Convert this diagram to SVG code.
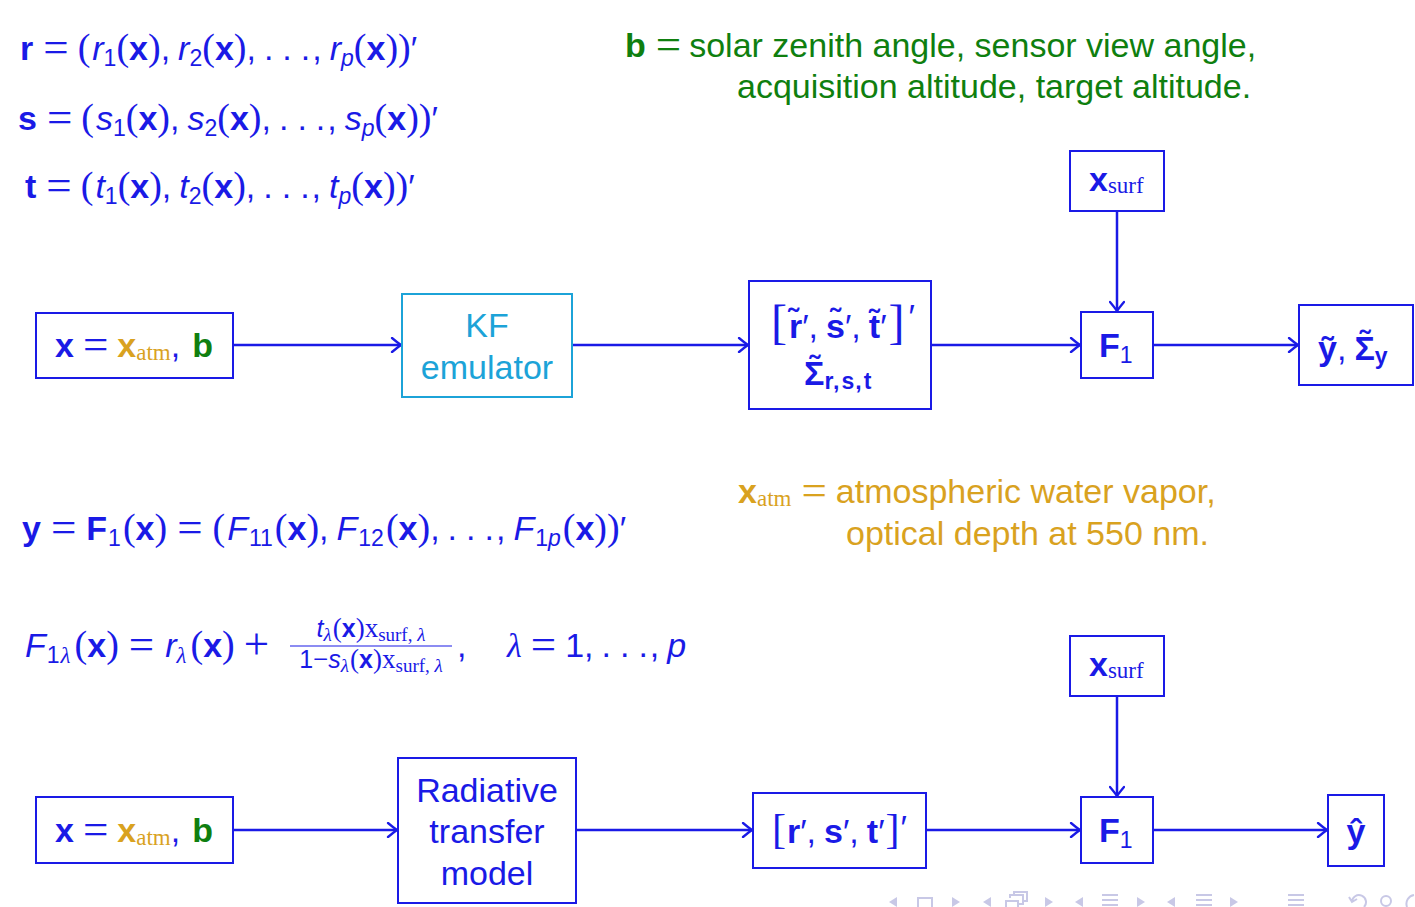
<svg xmlns="http://www.w3.org/2000/svg" width="1415" height="907" viewBox="0 0 1415 907">
<defs>
<style>
text{font-family:"Liberation Sans",Arial,sans-serif;font-size:34px}
.bf{font-weight:bold}
.it{font-style:italic}
.eq{font-family:"Liberation Serif",serif;font-size:45px;font-style:normal;font-weight:normal;baseline-shift:-2px}
.p{font-family:"Liberation Serif",serif;font-size:38px;font-style:normal;font-weight:normal}
.sb{font-size:23px}
.sr{font-family:"Liberation Serif",serif;font-size:23px}
.lam{font-family:"Liberation Serif",serif;font-style:italic}
.blue{fill:#1a1ae6}
.green{fill:#0f7f0f}
.gold{fill:#d9a21f}
.cyan{fill:#1ca3d8}
.box{fill:#ffffff;stroke:#1a1ae6;stroke-width:2}
.kf{fill:#ffffff;stroke:#1ca3d8;stroke-width:2}
.con{fill:none;stroke:#1a1ae6;stroke-width:2.5;marker-end:url(#ah)}
.nav{fill:#c8c8e6;stroke:none}
.navs{fill:none;stroke:#c8c8e6;stroke-width:2}
.fr{font-size:25px}
.frs{font-family:"Liberation Serif",serif;font-size:19px}
.frp{font-family:"Liberation Serif",serif;font-size:27px}
</style>
<marker id="ah" viewBox="-11 -8 13 16" refX="0" refY="0" markerWidth="13" markerHeight="16" markerUnits="userSpaceOnUse" orient="auto">
<path d="M-9,-7 Q-3,-2 0,0 Q-3,2 -9,7" fill="none" stroke="#1a1ae6" stroke-width="2.3" stroke-linecap="round"/>
</marker>
</defs>
<rect width="1415" height="907" fill="#ffffff"/>

<g id="formulas">
<text class="blue" x="20" y="60"><tspan class="bf">r</tspan><tspan class="eq" dx="10">=</tspan><tspan class="p" dx="9">(</tspan><tspan class="it" dx="2">r</tspan><tspan class="sb" dy="6">1</tspan><tspan class="p" dy="-6">(</tspan><tspan class="bf">x</tspan><tspan class="p">)</tspan><tspan>,</tspan><tspan class="it" dx="8">r</tspan><tspan class="sb" dy="6">2</tspan><tspan class="p" dy="-6">(</tspan><tspan class="bf">x</tspan><tspan class="p">)</tspan><tspan>,</tspan><tspan dx="8">.</tspan><tspan dx="9">.</tspan><tspan dx="9">.</tspan><tspan dx="2">,</tspan><tspan class="it" dx="8">r</tspan><tspan class="it sb" dy="6">p</tspan><tspan class="p" dy="-6">(</tspan><tspan class="bf">x</tspan><tspan class="p">))</tspan><tspan>′</tspan></text>
<text class="blue" x="18" y="130"><tspan class="bf">s</tspan><tspan class="eq" dx="10">=</tspan><tspan class="p" dx="9">(</tspan><tspan class="it" dx="2">s</tspan><tspan class="sb" dy="6">1</tspan><tspan class="p" dy="-6">(</tspan><tspan class="bf">x</tspan><tspan class="p">)</tspan><tspan>,</tspan><tspan class="it" dx="8">s</tspan><tspan class="sb" dy="6">2</tspan><tspan class="p" dy="-6">(</tspan><tspan class="bf">x</tspan><tspan class="p">)</tspan><tspan>,</tspan><tspan dx="8">.</tspan><tspan dx="9">.</tspan><tspan dx="9">.</tspan><tspan dx="2">,</tspan><tspan class="it" dx="8">s</tspan><tspan class="it sb" dy="6">p</tspan><tspan class="p" dy="-6">(</tspan><tspan class="bf">x</tspan><tspan class="p">))</tspan><tspan>′</tspan></text>
<text class="blue" x="25" y="198"><tspan class="bf">t</tspan><tspan class="eq" dx="10">=</tspan><tspan class="p" dx="9">(</tspan><tspan class="it" dx="2">t</tspan><tspan class="sb" dy="6">1</tspan><tspan class="p" dy="-6">(</tspan><tspan class="bf">x</tspan><tspan class="p">)</tspan><tspan>,</tspan><tspan class="it" dx="8">t</tspan><tspan class="sb" dy="6">2</tspan><tspan class="p" dy="-6">(</tspan><tspan class="bf">x</tspan><tspan class="p">)</tspan><tspan>,</tspan><tspan dx="8">.</tspan><tspan dx="9">.</tspan><tspan dx="9">.</tspan><tspan dx="2">,</tspan><tspan class="it" dx="8">t</tspan><tspan class="it sb" dy="6">p</tspan><tspan class="p" dy="-6">(</tspan><tspan class="bf">x</tspan><tspan class="p">))</tspan><tspan>′</tspan></text>

<text x="625" y="57"><tspan class="bf green">b</tspan><tspan class="eq green" dx="10">=</tspan><tspan class="green" dx="8">solar zenith angle, sensor view angle,</tspan></text>
<text class="green" x="737" y="98">acquisition altitude, target altitude.</text>

<text class="gold" x="738" y="503"><tspan class="bf">x</tspan><tspan class="sr" dy="3">atm</tspan><tspan class="eq" dy="-3" dx="10">=</tspan><tspan dx="9">atmospheric water vapor,</tspan></text>
<text class="gold" x="846" y="545">optical depth at 550 nm.</text>

<text class="blue" x="22" y="540"><tspan class="bf">y</tspan><tspan class="eq" dx="10">=</tspan><tspan class="bf" dx="10">F</tspan><tspan class="sb" dy="6" dx="1">1</tspan><tspan class="p" dy="-6" dx="2">(</tspan><tspan class="bf">x</tspan><tspan class="p">)</tspan><tspan class="eq" dx="10">=</tspan><tspan class="p" dx="10">(</tspan><tspan class="it" dx="2">F</tspan><tspan class="sb" dy="6" dx="1">11</tspan><tspan class="p" dy="-6" dx="2">(</tspan><tspan class="bf">x</tspan><tspan class="p">)</tspan><tspan>,</tspan><tspan class="it" dx="8">F</tspan><tspan class="sb" dy="6" dx="1">12</tspan><tspan class="p" dy="-6" dx="2">(</tspan><tspan class="bf">x</tspan><tspan class="p">)</tspan><tspan>,</tspan><tspan dx="8">.</tspan><tspan dx="9">.</tspan><tspan dx="9">.</tspan><tspan dx="2">,</tspan><tspan class="it" dx="8">F</tspan><tspan class="sb" dy="6" dx="1">1<tspan class="it">p</tspan></tspan><tspan class="p" dy="-6" dx="2">(</tspan><tspan class="bf">x</tspan><tspan class="p">))</tspan><tspan>′</tspan></text>

<text class="blue" x="25" y="657"><tspan class="it">F</tspan><tspan class="sb" dy="6" dx="1">1</tspan><tspan class="sb lam" dx="1">λ</tspan><tspan class="p" dy="-6" dx="4">(</tspan><tspan class="bf">x</tspan><tspan class="p">)</tspan><tspan class="eq" dx="10">=</tspan><tspan class="it" dx="11">r</tspan><tspan class="sb lam" dy="6">λ</tspan><tspan class="p" dy="-6" dx="4">(</tspan><tspan class="bf">x</tspan><tspan class="p">)</tspan><tspan class="eq" dx="9">+</tspan></text>
<text class="blue fr" x="371" y="637" text-anchor="middle"><tspan class="it">t</tspan><tspan class="frs" style="font-style:italic" dy="4">λ</tspan><tspan class="frp" dy="-4" dx="1">(</tspan><tspan class="bf">x</tspan><tspan class="frp">)x</tspan><tspan class="frs" dy="4">surf, <tspan style="font-style:italic">λ</tspan></tspan></text>
<line x1="290" y1="646" x2="452" y2="646" stroke="#1a1ae6" stroke-width="1.2"/>
<text class="blue fr" x="371" y="668" text-anchor="middle"><tspan>1</tspan><tspan class="frp">−</tspan><tspan class="it">s</tspan><tspan class="frs" style="font-style:italic" dy="4">λ</tspan><tspan class="frp" dy="-4" dx="1">(</tspan><tspan class="bf">x</tspan><tspan class="frp">)x</tspan><tspan class="frs" dy="4">surf, <tspan style="font-style:italic">λ</tspan></tspan></text>
<text class="blue" x="457" y="657">,</text>
<text class="blue" x="507" y="657"><tspan class="lam">λ</tspan><tspan class="eq" dx="9">=</tspan><tspan dx="9">1</tspan><tspan>,</tspan><tspan dx="8">.</tspan><tspan dx="9">.</tspan><tspan dx="9">.</tspan><tspan dx="2">,</tspan><tspan class="it" dx="8">p</tspan></text>
</g>

<g id="connectors">
<line class="con" x1="233" y1="345" x2="401" y2="345"/>
<line class="con" x1="572" y1="345" x2="748" y2="345"/>
<line class="con" x1="931" y1="345" x2="1080" y2="345"/>
<line class="con" x1="1153" y1="345" x2="1298" y2="345"/>
<line class="con" x1="1117" y1="211" x2="1117" y2="311"/>
<line class="con" x1="233" y1="830" x2="397" y2="830"/>
<line class="con" x1="576" y1="830" x2="752" y2="830"/>
<line class="con" x1="926" y1="830" x2="1080" y2="830"/>
<line class="con" x1="1153" y1="830" x2="1327" y2="830"/>
<line class="con" x1="1117" y1="696" x2="1117" y2="796"/>
</g>

<g id="n-input-top">
<rect class="box" x="36" y="313" width="197" height="65"/>
<text x="55" y="357"><tspan class="bf blue">x</tspan><tspan class="eq blue" dx="9">=</tspan><tspan class="bf gold" dx="9">x</tspan><tspan class="sr gold" dy="3">atm</tspan><tspan class="blue" dy="-3">,</tspan><tspan class="bf green" dx="12">b</tspan></text>
</g>
<g id="n-kf">
<rect class="kf" x="402" y="294" width="170" height="103"/>
<text class="cyan" x="487" y="337" text-anchor="middle">KF</text>
<text class="cyan" x="487" y="379" text-anchor="middle">emulator</text>
</g>
<g id="n-rst-tilde">
<rect class="box" x="749" y="281" width="182" height="128"/>
<text class="blue" x="771" y="338"><tspan class="p" style="font-size:48px">[</tspan><tspan class="bf" dx="2">r&#x303;</tspan><tspan>′</tspan><tspan>,</tspan><tspan class="bf" dx="8">s&#x303;</tspan><tspan>′</tspan><tspan>,</tspan><tspan class="bf" dx="8">t&#x303;</tspan><tspan>′</tspan><tspan class="p" dx="2" style="font-size:48px">]</tspan><tspan dx="4" dy="-10">′</tspan></text>
<text class="blue bf" x="804" y="385">Σ&#x303;<tspan class="sb" dy="4">r<tspan dx="1">,</tspan><tspan dx="2">s</tspan><tspan dx="1">,</tspan><tspan dx="2">t</tspan></tspan></text>
</g>
<g id="n-xsurf-top">
<rect class="box" x="1070" y="151" width="94" height="60"/>
<text class="blue" x="1089" y="191"><tspan class="bf">x</tspan><tspan class="sr" dy="2">surf</tspan></text>
</g>
<g id="n-f1-top">
<rect class="box" x="1081" y="312" width="72" height="66"/>
<text class="blue" x="1099" y="357"><tspan class="bf">F</tspan><tspan class="sb" dy="6">1</tspan></text>
</g>
<g id="n-output-top">
<rect class="box" x="1299" y="305" width="114" height="80"/>
<text class="blue" x="1318" y="360"><tspan class="bf">ỹ</tspan><tspan>,</tspan><tspan class="bf" dx="8">Σ&#x303;</tspan><tspan class="bf sb" dy="4">y</tspan></text>
</g>

<g id="n-input-bottom">
<rect class="box" x="36" y="797" width="197" height="66"/>
<text x="55" y="842"><tspan class="bf blue">x</tspan><tspan class="eq blue" dx="9">=</tspan><tspan class="bf gold" dx="9">x</tspan><tspan class="sr gold" dy="3">atm</tspan><tspan class="blue" dy="-3">,</tspan><tspan class="bf green" dx="12">b</tspan></text>
</g>
<g id="n-rtm">
<rect class="box" x="398" y="758" width="178" height="145"/>
<text class="blue" x="487" y="802" text-anchor="middle">Radiative</text>
<text class="blue" x="487" y="843" text-anchor="middle">transfer</text>
<text class="blue" x="487" y="885" text-anchor="middle">model</text>
</g>
<g id="n-rst">
<rect class="box" x="753" y="793" width="173" height="75"/>
<text class="blue" x="772" y="843"><tspan class="p" style="font-size:42px">[</tspan><tspan class="bf" dx="1">r</tspan><tspan>′</tspan><tspan>,</tspan><tspan class="bf" dx="8">s</tspan><tspan>′</tspan><tspan>,</tspan><tspan class="bf" dx="8">t</tspan><tspan>′</tspan><tspan class="p" dx="1" style="font-size:42px">]</tspan><tspan dx="1" dy="-4">′</tspan></text>
</g>
<g id="n-xsurf-bottom">
<rect class="box" x="1070" y="636" width="94" height="60"/>
<text class="blue" x="1089" y="676"><tspan class="bf">x</tspan><tspan class="sr" dy="2">surf</tspan></text>
</g>
<g id="n-f1-bottom">
<rect class="box" x="1081" y="797" width="72" height="66"/>
<text class="blue" x="1099" y="842"><tspan class="bf">F</tspan><tspan class="sb" dy="6">1</tspan></text>
</g>
<g id="n-yhat">
<rect class="box" x="1328" y="795" width="56" height="71"/>
<text class="blue bf" x="1356" y="843" text-anchor="middle">ŷ</text>
</g>

<g id="nav">
<polygon class="nav" points="889,902 897,897 897,907"/>
<rect class="navs" x="918" y="898" width="14" height="10"/>
<polygon class="nav" points="960,902 952,897 952,907"/>
<polygon class="nav" points="983,902 991,897 991,907"/>
<rect class="navs" x="1006" y="901" width="12" height="8"/>
<path class="navs" d="M1010,898 V895 H1023 V904 H1019 M1014,895 V892 H1027 V901 H1023"/>
<polygon class="nav" points="1053,902 1045,897 1045,907"/>
<polygon class="nav" points="1075,902 1083,897 1083,907"/>
<path class="navs" d="M1102,895 H1118 M1102,900 H1118 M1102,905 H1118"/>
<polygon class="nav" points="1145,902 1137,897 1137,907"/>
<polygon class="nav" points="1167,902 1175,897 1175,907"/>
<path class="navs" d="M1196,895 H1212 M1196,900 H1212 M1196,905 H1212"/>
<polygon class="nav" points="1238,902 1230,897 1230,907"/>
<path class="navs" d="M1288,895 H1304 M1288,900 H1304 M1288,905 H1304"/>
<path class="navs" d="M1352,902 A7,7 0 1 1 1364,907 M1349,897 L1352,902 L1357,899"/>
<circle class="navs" cx="1386" cy="901" r="5"/>
<path class="navs" d="M1414,895 A9,9 0 0 0 1407,907"/>
</g>
</svg>
